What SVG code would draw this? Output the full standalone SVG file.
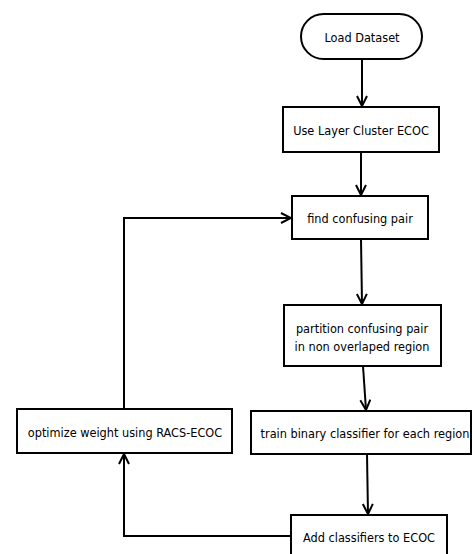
<svg xmlns="http://www.w3.org/2000/svg" width="472" height="554" viewBox="0 0 472 554">
<defs>
<style>
.box{fill:#fff;stroke:#000;stroke-width:2}
.t{font-family:"DejaVu Sans Condensed","DejaVu Sans",sans-serif;font-size:12.6px;fill:#000;text-anchor:middle;dominant-baseline:central}
.c{fill:none;stroke:#000;stroke-width:2}
</style>
<marker id="ah" viewBox="0 0 12 12" refX="11" refY="6" markerWidth="12" markerHeight="12" markerUnits="userSpaceOnUse" orient="auto">
<path d="M1,1 L11,6 L1,11" fill="none" stroke="#000" stroke-width="2"/>
</marker>
</defs>
<rect width="472" height="554" fill="#fff"/>
<g id="connectors">
<line class="c" x1="362" y1="59" x2="362" y2="106" marker-end="url(#ah)"/>
<line class="c" x1="361" y1="152" x2="361" y2="195" marker-end="url(#ah)"/>
<line class="c" x1="361" y1="239" x2="362" y2="304" marker-end="url(#ah)"/>
<line class="c" x1="363" y1="366" x2="366" y2="410" marker-end="url(#ah)"/>
<line class="c" x1="367" y1="454" x2="368" y2="514" marker-end="url(#ah)"/>
<polyline class="c" points="291,536 124,536 124,454" marker-end="url(#ah)"/>
<polyline class="c" points="124,409 124,218 291,218" marker-end="url(#ah)"/>
</g>
<g id="load">
<rect class="box" x="301" y="14" width="121" height="45" rx="22.5"/>
<text class="t" x="362" y="37">Load Dataset</text>
</g>
<g id="layer">
<rect class="box" x="283" y="107" width="156" height="45"/>
<text class="t" x="361" y="130">Use Layer Cluster ECOC</text>
</g>
<g id="find">
<rect class="box" x="292" y="196" width="136" height="43"/>
<text class="t" x="360" y="218">find confusing pair</text>
</g>
<g id="partition">
<rect class="box" x="284" y="305" width="157" height="61"/>
<text class="t" x="362" y="328">partition confusing pair</text>
<text class="t" x="362" y="346">in non overlaped region</text>
</g>
<g id="train">
<rect class="box" x="251" y="411" width="220" height="43"/>
<text class="t" x="365" y="433">train binary classifier for each region</text>
</g>
<g id="optimize">
<rect class="box" x="17" y="409" width="215" height="44"/>
<text class="t" x="125" y="432">optimize weight using RACS-ECOC</text>
</g>
<g id="add">
<rect class="box" x="291" y="515" width="156" height="45"/>
<text class="t" x="369" y="537">Add classifiers to ECOC</text>
</g>
</svg>
